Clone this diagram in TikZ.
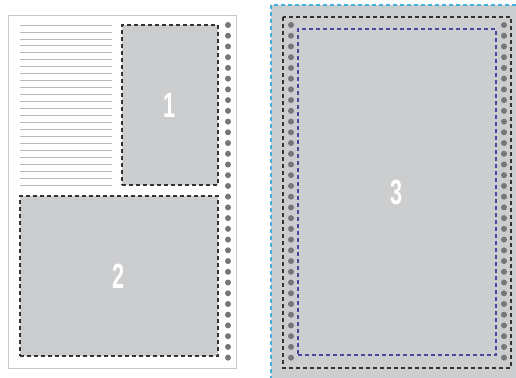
\documentclass[tikz,border=0pt]{standalone}
\usepackage{fontspec}
\setmainfont{Liberation Sans}
\definecolor{panelgray}{RGB}{204,205,207}
\definecolor{dotgray}{RGB}{118,118,121}
\definecolor{rulegray}{RGB}{185,185,187}
\definecolor{edgegray}{RGB}{200,200,202}
\definecolor{bleedblue}{RGB}{70,175,220}
\definecolor{safeblue}{RGB}{72,72,160}
\newcommand{\panelnum}[1]{\scalebox{0.62}[1]{#1}}
\begin{document}
\begin{tikzpicture}[x=1pt, y=-1pt,
    panel/.style={rectangle, draw=black!80, line width=1.2pt, dash pattern=on 4pt off 3pt, fill=panelgray, inner sep=0pt, text=white, font=\fontsize{35}{35}\selectfont\bfseries},
    hole/.style={fill=dotgray},
    rule/.style={draw=rulegray, line width=0.8pt},
]
\useasboundingbox (0,0) rectangle (516,377);

% left page
\draw[edgegray, line width=1pt, fill=white] (8,16) rectangle (236,368);
\foreach \i in {0,...,23}
    \draw[rule] (20,25+\i*6.96) -- (112,25+\i*6.96);
\foreach \i in {0,...,31}
    \fill[hole] (228,25+\i*10.73) circle (3);

\node[panel, minimum width=96pt, minimum height=160pt] (P1) at (170,105) {\panelnum{1}};
\node[panel, minimum width=198pt, minimum height=160pt] (P2) at (119,276) {\panelnum{2}};

% right page
\begin{scope}
\clip (0,0) rectangle (516,377);
\draw[bleedblue, line width=1.3pt, dash pattern=on 4pt off 3pt, fill=panelgray] (271,5) rectangle (530,390);
\end{scope}
\draw[black!80, line width=1.1pt, dash pattern=on 4pt off 3pt] (283,17) rectangle (511,368);
\foreach \i in {0,...,31} {
    \fill[hole] (291,25+\i*10.73) circle (3);
    \fill[hole] (504,25+\i*10.73) circle (3);
}
\node[panel, draw=safeblue, minimum width=198pt, minimum height=326pt] (P3) at (397,192) {\panelnum{3}};
\end{tikzpicture}
\end{document}
